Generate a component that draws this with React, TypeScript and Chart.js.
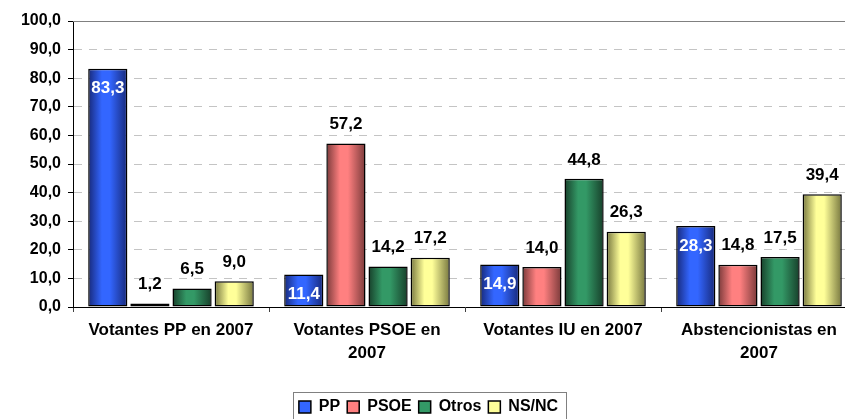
import React, { useEffect, useRef } from "react";
import { Chart, registerables } from "chart.js";

Chart.register(...registerables);

// ---- data ----
const categories: string[][] = [
  ["Votantes PP en 2007"],
  ["Votantes PSOE en", "2007"],
  ["Votantes IU en 2007"],
  ["Abstencionistas en", "2007"],
];
const seriesNames = ["PP", "PSOE", "Otros", "NS/NC"];
const ppValues = [83.3, 11.4, 14.9, 28.3];
const psoeValues = [1.2, 57.2, 14.0, 14.8];
const otrosValues = [6.5, 14.2, 44.8, 17.5];
const nsncValues = [9.0, 17.2, 26.3, 39.4];
const yTickValues = [0, 10, 20, 30, 40, 50, 60, 70, 80, 90, 100];

// ---- styles ----
const FONT = '"Liberation Sans", Arial, Helvetica, sans-serif';
const CAT_PCT = 0.86;
const BAR_PCT = 0.93;
const lightColors = ["#3366ff", "#ff8080", "#339966", "#ffff99"];
const darkColors = ["#17297a", "#7a3a3a", "#173f2a", "#77773f"];

const fmt = (v: number) => v.toFixed(1).replace(".", ",");

function gradFill(di: number) {
  return (ctx: any) => {
    const chart = ctx.chart;
    const xs = chart.scales && chart.scales.x;
    if (!xs || ctx.type !== "data" || ctx.dataIndex === undefined) return lightColors[di];
    const n = chart.data.labels.length;
    const catW = (xs.right - xs.left) / n;
    const center = xs.getPixelForValue(ctx.dataIndex);
    const groupW = catW * CAT_PCT;
    const slot = groupW / chart.data.datasets.length;
    const left = center - groupW / 2 + slot * di + (slot * (1 - BAR_PCT)) / 2;
    const w = slot * BAR_PCT;
    if (!isFinite(left) || !isFinite(w) || w <= 0) return lightColors[di];
    const g = chart.ctx.createLinearGradient(left, 0, left + w, 0);
    g.addColorStop(0, darkColors[di]);
    g.addColorStop(0.35, lightColors[di]);
    g.addColorStop(0.55, lightColors[di]);
    g.addColorStop(1, darkColors[di]);
    return g;
  };
}

const valueLabels = {
  id: "valueLabels",
  afterDatasetsDraw(chart: any) {
    const ctx = chart.ctx;
    ctx.save();
    ctx.font = `bold 17px ${FONT}`;
    ctx.textAlign = "center";
    ctx.textBaseline = "middle";
    chart.data.datasets.forEach((ds: any, di: number) => {
      const meta = chart.getDatasetMeta(di);
      meta.data.forEach((el: any, i: number) => {
        const txt = fmt(ds.data[i]);
        if (di === 0) {
          ctx.fillStyle = "#ffffff";
          ctx.fillText(txt, el.x, el.y + 20);
        } else {
          ctx.fillStyle = "#000000";
          ctx.fillText(txt, el.x, el.y - 19);
        }
      });
    });
    ctx.restore();
  },
};

const frame = {
  id: "frame",
  beforeDatasetsDraw(chart: any) {
    const { ctx, chartArea } = chart;
    ctx.save();
    ctx.strokeStyle = "#808080";
    ctx.lineWidth = 1;
    ctx.beginPath();
    ctx.moveTo(chartArea.left, Math.round(chartArea.top) + 0.5);
    ctx.lineTo(chartArea.right, Math.round(chartArea.top) + 0.5);
    ctx.stroke();
    ctx.restore();
  },
  afterDraw(chart: any) {
    const lg = chart.legend;
    if (!lg || !lg.legendHitBoxes || !lg.legendHitBoxes.length) return;
    const hb = lg.legendHitBoxes;
    const first = hb[0];
    const last = hb[hb.length - 1];
    const cy = first.top + first.height / 2;
    const ctx = chart.ctx;
    ctx.save();
    ctx.strokeStyle = "#808080";
    ctx.lineWidth = 1;
    const l = Math.round(first.left - 6) + 0.5;
    const r = Math.round(last.left + last.width + 8) + 0.5;
    const t = Math.round(cy - 15) + 0.5;
    ctx.strokeRect(l, t, r - l, 40);
    ctx.restore();
  },
};

export default function App() {
  const ref = useRef<HTMLCanvasElement | null>(null);
  useEffect(() => {
    if (!ref.current) return;
    const values = [ppValues, psoeValues, otrosValues, nsncValues];
    const chart = new Chart(ref.current, {
      type: "bar",
      data: {
        labels: categories as any,
        datasets: seriesNames.map((name, di) => ({
          label: name,
          data: values[di],
          backgroundColor: gradFill(di) as any,
          borderColor: "#000000",
          borderWidth: 1.5,
          borderSkipped: false,
          categoryPercentage: CAT_PCT,
          barPercentage: BAR_PCT,
        })),
      },
      options: {
        responsive: false,
        animation: false,
        devicePixelRatio: 1,
        layout: { padding: { top: 21, left: 0, right: 13, bottom: 1 } },
        plugins: {
          tooltip: { enabled: false },
          legend: {
            position: "bottom",
            labels: {
              font: { family: FONT, size: 16, weight: "bold" },
              color: "#000000",
              boxWidth: 12,
              boxHeight: 12,
              padding: 7,
              generateLabels: (chart: any) =>
                chart.data.datasets.map((ds: any, i: number) => ({
                  text: ds.label,
                  fillStyle: lightColors[i],
                  strokeStyle: "#000000",
                  lineWidth: 1.5,
                  fontColor: "#000000",
                  hidden: false,
                  datasetIndex: i,
                })),
            },
          },
        },
        scales: {
          x: {
            offset: true,
            grid: {
              offset: true,
              drawOnChartArea: false,
              drawTicks: true,
              tickLength: 5,
              tickColor: "#404040",
            },
            border: { display: true, color: "#000000", width: 1 },
            ticks: {
              font: { family: FONT, size: 17, weight: "bold", lineHeight: 1.35 },
              color: "#000000",
              padding: 7,
              maxRotation: 0,
              autoSkip: false,
            },
            afterFit: (s: any) => {
              s.height = 85;
            },
          },
          y: {
            min: 0,
            max: 100,
            afterBuildTicks: (s: any) => {
              s.ticks = yTickValues.map((v) => ({ value: v }));
            },
            grid: {
              color: (c: any) =>
                c.tick && (c.tick.value === 0 || c.tick.value === 100) ? "rgba(0,0,0,0)" : "#c4c4c4",
              lineWidth: 1,
              drawTicks: true,
              tickLength: 5,
              tickColor: "#000000",
            },
            border: { display: true, color: "#000000", width: 1, dash: [8, 7] },
            ticks: {
              font: { family: FONT, size: 16, weight: "bold" },
              color: "#000000",
              padding: 7,
              callback: (v: any) => fmt(Number(v)),
            },
            afterFit: (s: any) => {
              s.width = 73;
            },
          },
        },
      },
      plugins: [frame, valueLabels],
    });
    return () => chart.destroy();
  }, []);

  return (
    <div
      style={{
        position: "fixed",
        left: 0,
        top: 0,
        width: 845,
        height: 419,
        overflow: "hidden",
        background: "#ffffff",
      }}
    >
      <canvas ref={ref} width={870} height={426} style={{ display: "block", width: 870, height: 426 }} />
    </div>
  );
}
